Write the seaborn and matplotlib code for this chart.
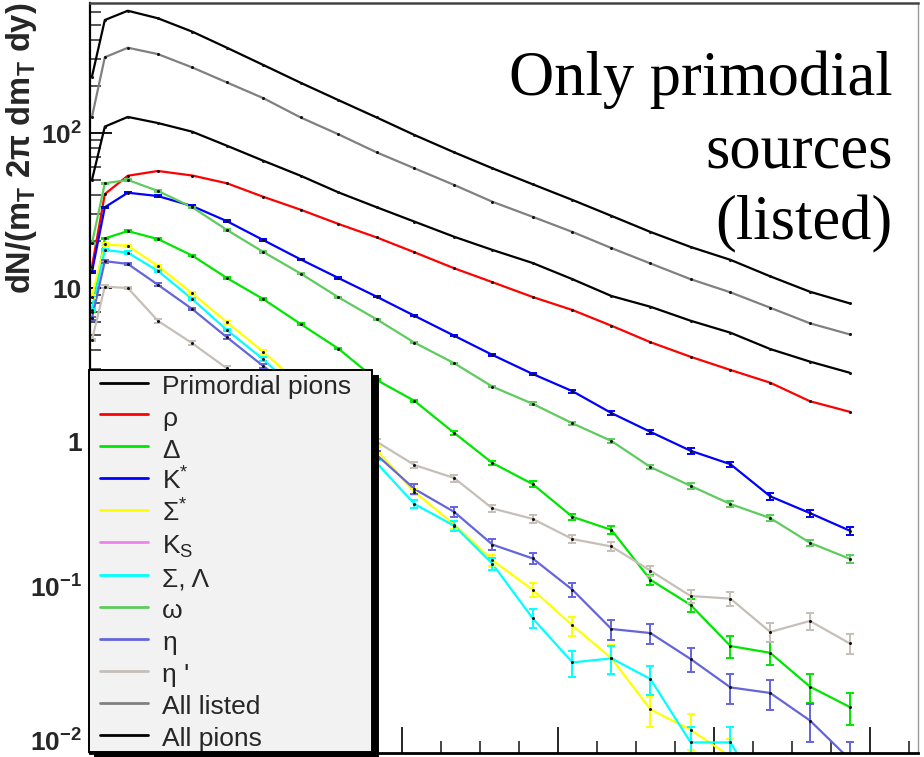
import numpy as np
import pandas as pd
import matplotlib
matplotlib.use("Agg")
import matplotlib.pyplot as plt
import matplotlib.transforms as mtransforms
import seaborn as sns
from matplotlib.lines import Line2D
from matplotlib.legend_handler import HandlerLine2D
from matplotlib.ticker import FixedLocator, FixedFormatter, LogLocator, NullFormatter, MultipleLocator

# ---------------- data ----------------
mt = [0.005, 0.038, 0.097, 0.174, 0.262, 0.351, 0.444, 0.540, 0.637, 0.735, 0.832,
      0.934, 1.032, 1.135, 1.237, 1.337, 1.437, 1.540, 1.642, 1.744, 1.846, 1.948]

all_pions = [231, 536, 615, 550, 451, 355, 275, 211, 163, 126, 97.1,
             75.0, 59.2, 46.7, 37.0, 29.2, 23.0, 18.4, 15.2, 11.9, 9.46, 7.96]
all_listed = [127, 308, 355, 323, 265, 212, 168, 126, 98.1, 75.0, 59.2,
              46.2, 36.0, 28.8, 23.0, 18.1, 14.4, 11.4, 9.38, 7.46, 5.92, 5.02]
primordial = [49.8, 110, 127, 116, 102, 82.8, 66.3, 53.0, 41.4, 33.2, 26.8,
              21.4, 17.6, 14.5, 11.4, 8.88, 7.57, 6.15, 5.15, 4.04, 3.35, 2.84]
rho = [13.7, 40.4, 53.0, 56.9, 53.2, 47.4, 38.8, 32.0, 25.9, 21.2, 17.0,
       13.4, 10.9, 8.75, 7.21, 5.71, 4.47, 3.60, 2.96, 2.45, 1.86, 1.59]
kstar = [12.7, 33.2, 41.2, 39.2, 33.8, 27.0, 20.4, 15.3, 11.6, 8.79, 6.62,
         4.92, 3.70, 2.79, 2.16, 1.56, 1.18, 0.891, 0.730, 0.453, 0.353, 0.272]
omega = [19.4, 47.4, 49.8, 42.3, 33.2, 23.7, 17.1, 12.4, 8.71, 6.28, 4.44,
         3.27, 2.31, 1.79, 1.34, 1.03, 0.700, 0.529, 0.404, 0.328, 0.227, 0.179]
delta = [7.03, 20.9, 23.3, 20.7, 16.2, 11.6, 8.49, 5.86, 4.06, 2.55, 1.87,
         1.16, 0.743, 0.543, 0.334, 0.275, 0.131, 0.0902, 0.0490, 0.0443, 0.0268, 0.0198]
sigma_star = [8.79, 19.1, 18.7, 13.9, 9.24, 6.01, 3.88, 2.37, 1.45, 0.901, 0.483,
              0.298, 0.175, 0.113, 0.0665, 0.0408, 0.0191, 0.0141, 0.0095, np.nan, np.nan, np.nan]
sigma_lambda = [7.21, 17.6, 16.9, 12.9, 8.49, 5.36, 3.47, 2.07, 1.25, 0.743, 0.404,
                0.292, 0.166, 0.074, 0.0384, 0.0408, 0.0300, 0.0117, 0.0117, 0.0044, np.nan, np.nan]
eta = [6.38, 14.9, 14.3, 10.5, 7.32, 4.81, 3.14, 2.04, 1.31, 0.838, 0.505,
       0.359, 0.221, 0.180, 0.113, 0.0631, 0.0594, 0.0404, 0.0265, 0.0244, 0.0162, 0.0091]
eta_prime = [4.62, 10.2, 10.0, 6.15, 4.40, 3.03, 2.26, 1.76, 1.35, 1.02, 0.721,
             0.594, 0.378, 0.324, 0.240, 0.215, 0.150, 0.103, 0.0991, 0.0604, 0.0711, 0.0509]
k_short = [np.nan] * len(mt)   # listed in the legend, no visible curve

# relative errors (fraction of value)
err_kstar = [0.01, 0.01, 0.01, 0.01, 0.01, 0.01, 0.01, 0.01, 0.01, 0.01, 0.01,
             0.01, 0.01, 0.01, 0.02, 0.03, 0.03, 0.04, 0.04, 0.05, 0.05, 0.06]
err_omega = [0.01, 0.01, 0.01, 0.01, 0.01, 0.01, 0.01, 0.01, 0.01, 0.01, 0.01,
             0.01, 0.01, 0.02, 0.02, 0.03, 0.03, 0.04, 0.04, 0.05, 0.05, 0.06]
err_delta = [0.01, 0.01, 0.01, 0.01, 0.01, 0.01, 0.01, 0.01, 0.01, 0.02, 0.02,
             0.03, 0.03, 0.04, 0.05, 0.06, 0.08, 0.10, 0.16, 0.17, 0.21, 0.23]
err_sigma_star = [0.02, 0.02, 0.02, 0.02, 0.02, 0.02, 0.03, 0.03, 0.03, 0.04, 0.05,
                  0.06, 0.08, 0.10, 0.14, 0.22, 0.23, 0.26, 0.30, 0.0, 0.0, 0.0]
err_sigma_lambda = [0.02, 0.02, 0.02, 0.02, 0.02, 0.02, 0.03, 0.03, 0.03, 0.04, 0.06,
                    0.07, 0.09, 0.14, 0.19, 0.21, 0.21, 0.26, 0.26, 0.30, 0.0, 0.0]
err_eta = [0.02, 0.02, 0.02, 0.02, 0.02, 0.03, 0.03, 0.04, 0.05, 0.06, 0.07,
           0.07, 0.08, 0.08, 0.10, 0.15, 0.15, 0.18, 0.22, 0.22, 0.27, 0.30]
err_eta_prime = [0.02, 0.02, 0.02, 0.03, 0.03, 0.03, 0.03, 0.03, 0.03, 0.04, 0.04,
                 0.05, 0.05, 0.06, 0.06, 0.07, 0.08, 0.10, 0.10, 0.14, 0.12, 0.15]

legend_labels = ["Primordial pions", "ρ", "Δ", "K$^{*}$", "Σ$^{*}$", "K$_{S}$",
                 "Σ, Λ", "ω", "η", "η '", "All listed", "All pions"]
series_values = [primordial, rho, delta, kstar, sigma_star, k_short,
                 sigma_lambda, omega, eta, eta_prime, all_listed, all_pions]
series_errors = [None, None, err_delta, err_kstar, err_sigma_star, None,
                 err_sigma_lambda, err_omega, err_eta, err_eta_prime, None, None]
series_colors = ["#000000", "#ff0000", "#00e600", "#0000ff", "#ffff00", "#ee82ee",
                 "#00ffff", "#5ecb5e", "#6464dc", "#c6bfb8", "#808080", "#000000"]

ytick_values = [0.01, 0.1, 1, 10, 100]
ytick_labels = ["10$^{-2}$", "10$^{-1}$", "1", "10", "10$^{2}$"]

# ---------------- style ----------------
sns.set_style("white")
plt.rcParams["font.family"] = ["Liberation Sans", "DejaVu Sans"]
plt.rcParams["mathtext.default"] = "regular"

fig = plt.figure(figsize=(9.24, 7.57), dpi=100)
ax = fig.add_axes([90 / 924, 4 / 757, 828 / 924, 750 / 757])

keys = [f"s{i}" for i in range(len(series_values))]
df = pd.DataFrame({
    "mt": np.tile(mt, len(series_values)),
    "y": np.concatenate([np.asarray(v, float) for v in series_values]),
    "src": np.repeat(keys, len(mt)),
}).dropna()
palette = dict(zip(keys, series_colors))
draw_keys = [k for k, v in zip(keys, series_values) if not np.all(np.isnan(np.asarray(v, float)))]

sns.lineplot(data=df, x="mt", y="y", hue="src", hue_order=draw_keys, palette=palette,
             estimator=None, sort=False, legend=False, linewidth=1.6, ax=ax)

for vals, errs, col in zip(series_values, series_errors, series_colors):
    v = np.asarray(vals, float)
    ok = ~np.isnan(v)
    if not ok.any():
        continue
    x = np.asarray(mt)[ok]
    yv = v[ok]
    if errs is not None:
        e = np.asarray(errs, float)[ok] * yv
        ax.errorbar(x, yv, yerr=[e, e], fmt="none", ecolor=col, elinewidth=1.4,
                    capsize=3.0, capthick=1.4, zorder=2.5)
    ax.plot(x, yv, "o", ms=2.2, mfc="#111111", mec="none", zorder=3)

ax.set_yscale("log")
ax.set_ylim(0.01, 690)
ax.set_xlim(0, 2.123)

ax.yaxis.set_major_locator(FixedLocator(ytick_values))
ax.yaxis.set_major_formatter(FixedFormatter(ytick_labels))
ax.yaxis.set_minor_locator(LogLocator(base=10, subs=np.arange(2, 10), numticks=50))
ax.yaxis.set_minor_formatter(NullFormatter())
ax.xaxis.set_major_locator(MultipleLocator(0.4))
ax.xaxis.set_minor_locator(MultipleLocator(0.1))

ax.tick_params(axis="y", which="major", direction="in", length=16, width=1.3,
               left=True, right=False, labelsize=19, pad=6, color="black")
ax.tick_params(axis="y", which="minor", direction="in", length=8, width=1.1,
               left=True, right=False)
ax.tick_params(axis="x", which="major", direction="in", length=19, width=1.4,
               bottom=True, top=False, labelbottom=False)
ax.tick_params(axis="x", which="minor", direction="in", length=9, width=1.2,
               bottom=True, top=False)

# ROOT-like placement of the lower labels (slightly raised)
label_shift_px = [13, 12, 2, 0, 0]
for tick, dy in zip(ax.yaxis.get_major_ticks(), label_shift_px):
    lab = tick.label1
    lab.set_fontweight("bold")
    lab.set_transform(lab.get_transform() +
                      mtransforms.ScaledTranslation(0, dy / 100.0, fig.dpi_scale_trans))

ax.set_xlabel("")
ax.set_ylabel("dN/(m$_{T}$ 2π dm$_{T}$ dy)", fontsize=23.5, fontweight="bold", loc="top")
ax.yaxis.set_label_coords(-0.061, 1.0)

ax.spines["left"].set_linewidth(1.6)
ax.spines["left"].set_color("black")
ax.spines["bottom"].set_linewidth(2.0)
ax.spines["bottom"].set_color("black")
ax.spines["top"].set_linewidth(1.8)
ax.spines["top"].set_color("#444444")
ax.spines["right"].set_linewidth(1.0)
ax.spines["right"].set_color("#9a9a9a")

handles = [Line2D([], [], color=c, lw=2.0) for c in series_colors]
leg = ax.legend(handles, legend_labels, loc="upper left",
                bbox_to_anchor=(-0.0012, 0.0, 0.3418, 0.5107), mode="expand",
                borderaxespad=0, borderpad=0.05, handlelength=2.2, handleheight=1.2,
                handletextpad=0.52, labelspacing=0.17, fontsize=19,
                frameon=True, fancybox=False, framealpha=1,
                facecolor="#f2f2f2", edgecolor="black",
                shadow={"color": "black", "alpha": 1, "ox": 4.5, "oy": -4.5},
                handler_map={Line2D: HandlerLine2D(xpad=0.38)})
leg.get_frame().set_linewidth(1.4)

ax.text(0.9698, 0.937, "Only primodial\nsources\n(listed)", transform=ax.transAxes,
        ha="right", va="top", multialignment="right", fontsize=45,
        family="Liberation Serif", linespacing=1.33, color="black")

fig.savefig("out.png", dpi=100)
